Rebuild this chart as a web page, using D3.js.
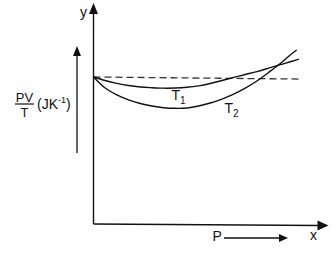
<!DOCTYPE html>
<html><head><meta charset="utf-8">
<script src="https://cdn.jsdelivr.net/npm/d3@7"></script>
<style>html,body{margin:0;padding:0;background:#fff;}svg{display:block;}</style>
</head><body>
<svg id="c" width="335" height="259"></svg>
<script>
// Data (P in arbitrary units, PV/T normalised so ideal value = 1)
const pressureT1 = [0,0.5,1,1.5,2,2.5,3,3.5,4,4.5,5,5.5,6,6.5,7,7.5,8,8.5,8.8];
const valuesT1   = [1.000,0.976,0.957,0.942,0.932,0.927,0.924,0.925,0.930,0.940,0.956,0.976,0.997,1.017,1.037,1.060,1.084,1.107,1.122];
const pressureT2 = [0,0.5,1,1.5,2,2.5,3,3.5,4,4.5,5,5.5,6,6.5,7,7.5,8,8.5,8.7];
const valuesT2   = [1.000,0.925,0.878,0.844,0.820,0.803,0.791,0.787,0.789,0.803,0.823,0.850,0.884,0.925,0.973,1.031,1.092,1.160,1.184];
const pressureIdeal = [0, 8.85];
const valuesIdeal   = [1.000, 0.986];
const curveLabels = ["T", "T"];
const curveSubs = ["1", "2"];

const svg = d3.select("#c");
const x = d3.scaleLinear().domain([0, 10]).range([93.5, 327]);
const y = d3.scaleLinear().domain([0, 1.5]).range([224, 3.5]);
const ink = "#111";

function arrowHead(tipX, tipY, dir, len, half) {
  let pts;
  if (dir === "up") pts = [[tipX,tipY],[tipX-half,tipY+len],[tipX+half,tipY+len]];
  else pts = [[tipX,tipY],[tipX-len,tipY-half],[tipX-len,tipY+half]];
  svg.append("path").attr("d", d3.line()(pts) + "Z").attr("fill", ink);
}

// Axes
svg.append("line").attr("x1", x(0)).attr("y1", y(0)).attr("x2", x(0)).attr("y2", 12)
  .attr("stroke", ink).attr("stroke-width", 1.4);
arrowHead(x(0), 3, "up", 11, 4.5);
svg.append("line").attr("x1", x(0)).attr("y1", y(0)).attr("x2", 320).attr("y2", 225.5)
  .attr("stroke", ink).attr("stroke-width", 1.4);
arrowHead(328.5, 225.5, "right", 11, 5);

// Curves
const line = d3.line().x(d => x(d[0])).y(d => y(d[1])).curve(d3.curveCatmullRom);
svg.append("path").datum(d3.zip(pressureIdeal, valuesIdeal))
  .attr("d", d3.line().x(d => x(d[0])).y(d => y(d[1])))
  .attr("fill", "none").attr("stroke", "#333").attr("stroke-width", 1.3).attr("stroke-dasharray", "7,4");
svg.append("path").datum(d3.zip(pressureT1, valuesT1)).attr("d", line)
  .attr("fill", "none").attr("stroke", ink).attr("stroke-width", 1.4);
svg.append("path").datum(d3.zip(pressureT2, valuesT2)).attr("d", line)
  .attr("fill", "none").attr("stroke", ink).attr("stroke-width", 1.4);

const font = "Liberation Sans, Arial, sans-serif";
// Curve labels
const labelPos = [[171.5, 100], [224.5, 113]];
curveLabels.forEach((t, i) => {
  svg.append("text").attr("x", labelPos[i][0]).attr("y", labelPos[i][1])
    .attr("font-family", font).attr("font-size", 14).attr("fill", ink).text(t);
  svg.append("text").attr("x", labelPos[i][0] + 8.6).attr("y", labelPos[i][1] + 4)
    .attr("font-family", font).attr("font-size", 10).attr("fill", ink).text(curveSubs[i]);
});

// Axis letters
svg.append("text").attr("x", 80).attr("y", 17).attr("font-family", font).attr("font-size", 14).attr("fill", ink).text("y");
svg.append("text").attr("x", 310).attr("y", 239.5).attr("font-family", font).attr("font-size", 14).attr("fill", ink).text("x");

// P arrow label
svg.append("text").attr("x", 212.5).attr("y", 240.5).attr("font-family", font).attr("font-size", 14).attr("fill", ink).text("P");
svg.append("line").attr("x1", 224).attr("y1", 238).attr("x2", 280).attr("y2", 238).attr("stroke", ink).attr("stroke-width", 1.3);
arrowHead(288, 238, "right", 9, 4);

// Y quantity label with arrow
svg.append("line").attr("x1", 77).attr("y1", 153).attr("x2", 77).attr("y2", 55).attr("stroke", ink).attr("stroke-width", 1.3);
arrowHead(77, 46, "up", 10, 4);
svg.append("text").attr("x", 24.5).attr("y", 101.5).attr("text-anchor", "middle")
  .attr("font-family", font).attr("font-size", 13).attr("fill", ink).text("PV");
svg.append("line").attr("x1", 15).attr("x2", 34).attr("y1", 104).attr("y2", 104).attr("stroke", ink).attr("stroke-width", 1.2);
svg.append("text").attr("x", 24.5).attr("y", 116.5).attr("text-anchor", "middle")
  .attr("font-family", font).attr("font-size", 13).attr("fill", ink).text("T");
const unit = svg.append("text").attr("x", 37).attr("y", 109)
  .attr("font-family", font).attr("font-size", 14).attr("fill", ink);
unit.append("tspan").text("(JK");
unit.append("tspan").attr("font-size", 9).attr("dy", -6).text("-1");
unit.append("tspan").attr("dy", 6).text(")");
</script>
</body></html>
